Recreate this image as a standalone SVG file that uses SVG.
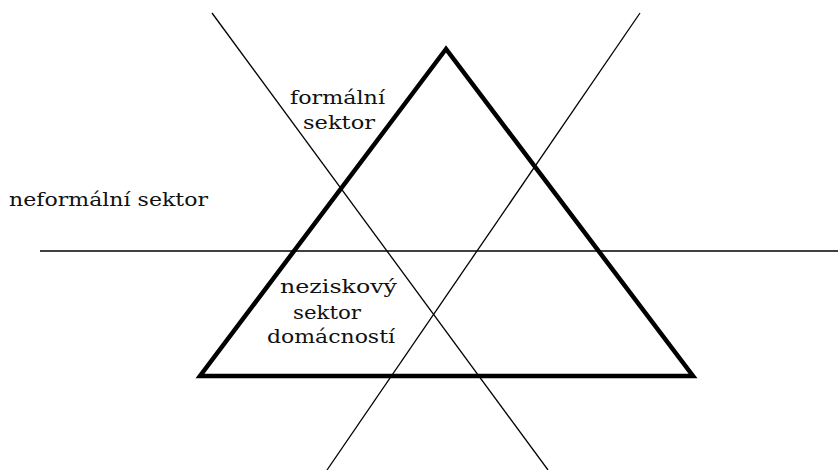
<svg xmlns="http://www.w3.org/2000/svg" width="838" height="470" viewBox="0 0 838 470">
<style>
.thin{stroke:#000;stroke-width:1.3;fill:none}
.tri{stroke:#000;stroke-width:4.5;fill:none;stroke-linejoin:miter}
text{font-family:"DejaVu Serif","Liberation Serif",serif;font-size:19px;fill:#111}
</style>
<rect width="838" height="470" fill="#fff"/>
<g id="connectors">
<line class="thin" x1="212" y1="13" x2="548" y2="470"/>
<line class="thin" x1="640" y1="13" x2="327" y2="470"/>
<line class="thin" x1="40" y1="251" x2="838" y2="251"/>
</g>
<g id="triangle">
<polygon class="tri" points="446,49 200,376 693,376"/>
</g>
<g id="formalni">
<text x="290" y="104" textLength="95" lengthAdjust="spacingAndGlyphs">formální</text>
<text x="303" y="129" textLength="72" lengthAdjust="spacingAndGlyphs">sektor</text>
</g>
<g id="neformalni">
<text x="9" y="206" textLength="199" lengthAdjust="spacingAndGlyphs">neformální sektor</text>
</g>
<g id="neziskovy">
<text x="280" y="293" textLength="117" lengthAdjust="spacingAndGlyphs">neziskový</text>
<text x="293" y="319" textLength="68" lengthAdjust="spacingAndGlyphs">sektor</text>
<text x="267" y="343" textLength="128" lengthAdjust="spacingAndGlyphs">domácností</text>
</g>
</svg>
